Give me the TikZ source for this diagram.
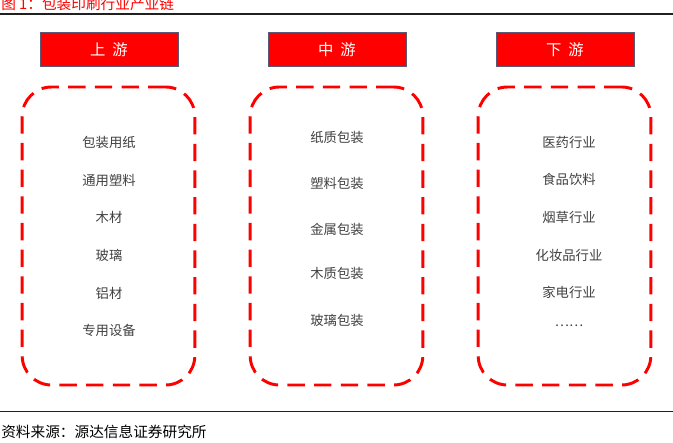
\documentclass[tikz,border=0pt]{standalone}
\usepackage{fontspec}
\setmainfont{Noto Sans CJK SC}
\usetikzlibrary{positioning,calc}
\definecolor{head}{HTML}{FF0000}
\definecolor{headline}{HTML}{5A5A78}
\definecolor{dash}{HTML}{FF0000}
\definecolor{text}{HTML}{404040}
\definecolor{rule}{HTML}{202020}
\tikzset{
  headbox/.style={fill=head,draw=headline,line width=0.6pt,minimum width=103.5pt,minimum height=26pt,text=white,font=\fontsize{11.5}{12}\selectfont},
  chainbox/.style={draw=dash,line width=2.2pt,dash pattern=on 13pt off 7pt,rounded corners=22pt,minimum width=129.5pt,minimum height=223.5pt},
  item/.style={text=text,font=\fontsize{10}{12}\selectfont,inner sep=1pt},
}
\begin{document}
\begin{tikzpicture}[x=0.75pt,y=-0.75pt]
\useasboundingbox (0,0) rectangle (673,442);
% title and rules
\node[anchor=west,text=head,font=\fontsize{11}{12}\selectfont,inner sep=0pt] (title) at (1,4) {图 1：包装印刷行业产业链};
\draw[rule,line width=0.8pt] (0,14) coordinate (tl) -- (673,14) coordinate (tr);
\draw[rule,line width=0.6pt] (0,411) coordinate (bl) -- (673,411) coordinate (br);
\node[anchor=west,text=black,font=\fontsize{11}{12}\selectfont,inner sep=0pt] (src) at (1,432) {资料来源：源达信息证券研究所};
% headers
\node[headbox] (up) at (109,49.5) {上\ \ 游};
\node[headbox] (mid) at (337,49.5) {中\ \ 游};
\node[headbox] (down) at (565,49.5) {下\ \ 游};
% dashed frames
\node[chainbox] (upbox) at (108.5,236) {};
\node[chainbox] (midbox) at (336.5,236) {};
\node[chainbox] (downbox) at (564.5,236) {};
% upstream
\foreach \t/\y [count=\i] in {包装用纸/142,通用塑料/180,木材/217,玻璃/255,铝材/293,专用设备/330}
  \node[item] (u\i) at (109,\y) {\t};
% midstream
\foreach \t/\y [count=\i] in {纸质包装/137,塑料包装/183,金属包装/229,木质包装/273,玻璃包装/320}
  \node[item] (m\i) at (337,\y) {\t};
% downstream
\foreach \t/\y [count=\i] in {医药行业/142,食品饮料/179,烟草行业/217,化妆品行业/255,家电行业/292,……/326}
  \node[item] (d\i) at (569,\y) {\t};
\end{tikzpicture}
\end{document}
